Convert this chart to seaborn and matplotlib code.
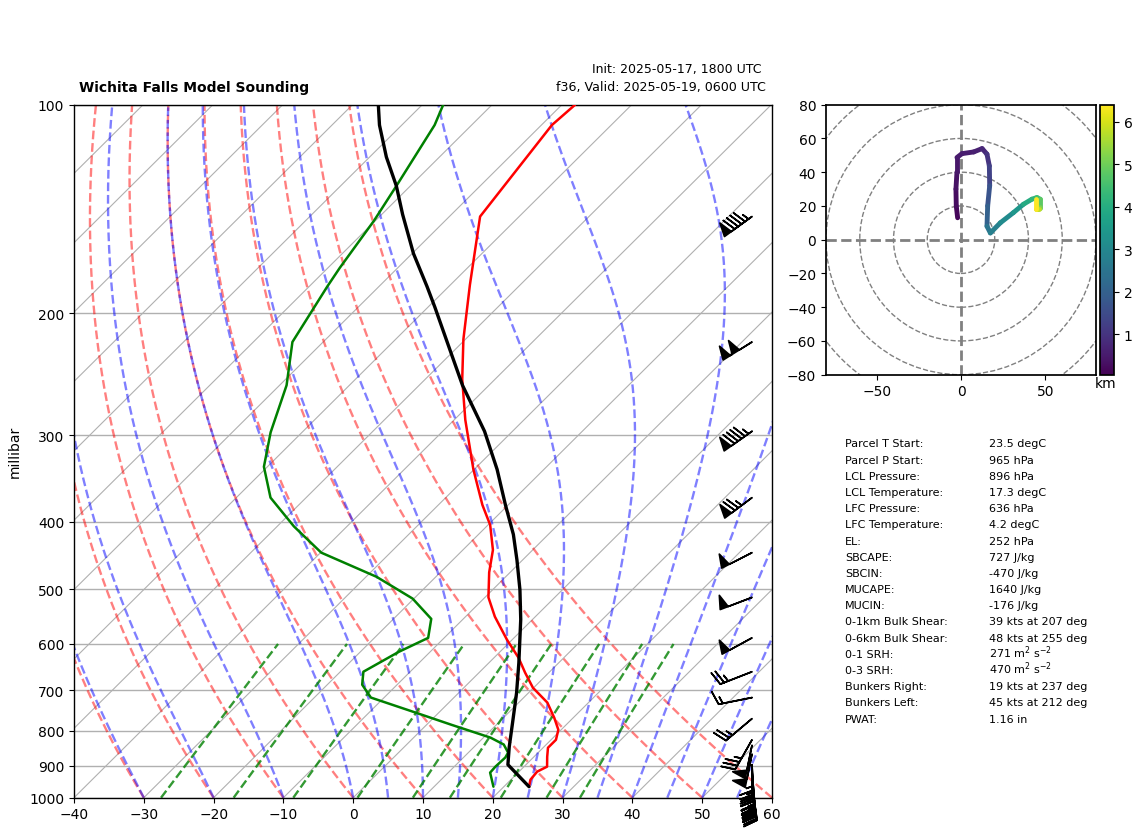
import numpy as np
import matplotlib
matplotlib.use('Agg')
import matplotlib.pyplot as plt
import seaborn as sns
from matplotlib.collections import LineCollection
from matplotlib.patches import Circle

sns.set_theme(style='white')
plt.rcParams['font.family'] = ['DejaVu Sans']
plt.rcParams['xtick.bottom'] = True
plt.rcParams['ytick.left'] = True
plt.rcParams['axes.edgecolor'] = 'black'
plt.rcParams['text.color'] = 'black'
plt.rcParams['axes.labelcolor'] = 'black'
plt.rcParams['xtick.color'] = 'black'
plt.rcParams['ytick.color'] = 'black'

W, H = 1142, 837

# sounding profiles, pressure in hPa and temperature in degC
temp_p = [100, 107, 145, 182, 218, 249, 285, 336, 378, 404, 439, 473, 514, 548, 592, 628, 660, 694,
          729, 767, 798, 825, 847, 873, 902, 917, 942, 964]
temp_c = [-68.1, -68.5, -65.6, -57.2, -50.3, -44.7, -38.4, -30.1, -23.7, -19.7, -15.7, -13.0, -9.5, -5.8,
          -0.7, 3.5, 6.6, 9.9, 14.1, 17.3, 19.6, 20.7, 20.7, 21.9, 23.3, 22.6, 22.8, 23.6]
dewp_p = [100, 107, 131, 147, 172, 183, 220, 254, 297, 333, 369, 406, 443, 480, 516, 552, 588, 616,
          658, 687, 717, 749, 785, 819, 838, 861, 875, 902, 920, 964]
dewp_c = [-87.0, -85.3, -82.0, -80.2, -78.3, -77.4, -74.4, -69.0, -64.5, -60.5, -55.1, -47.6, -39.9, -28.5,
          -20.2, -14.6, -12.3, -14.5, -16.7, -15.0, -11.9, -4.4, 3.6, 11.0, 13.9, 15.7, 16.0, 15.9, 16.0, 18.5]
parcel_p = [100, 107, 119, 131, 144, 164, 183, 196, 222, 254, 296, 336, 378, 417, 454, 501, 553, 639,
            706, 779, 844, 896, 964]
parcel_c = [-96.3, -93.2, -87.6, -82.0, -77.0, -69.8, -63.1, -59.0, -51.7, -43.8, -34.0, -26.7, -20.4, -15.0,
            -10.8, -6.1, -1.7, 4.3, 8.3, 12.0, 15.0, 17.4, 23.6]

# wind barbs
barb_p = [145, 220, 296, 369, 443, 514, 588, 658, 717, 769, 825, 840, 865, 896, 914, 929, 942, 951, 958, 964]
barb_u = [77, 85, 78, 60, 45, 47, 44, 23, 15, 19, 17, 10, 10, -2, -3, -3, -4, -4, -5, -5]
barb_v = [56, 53, 55, 45, 23, 18, 24, 9, 3, 16, 30, 49, 49, 36, 36, 35, 35, 35, 35, 35]

# hodograph
hodo_u = [-2, -2.8, -3, -2.4, -2.4, 0.6, 7.5, 12.5, 15.4, 16.8, 17, 15.8, 15.4, 17.4, 23.3, 31, 37, 42, 45, 47,
          47, 46, 44.5, 44.5]
hodo_v = [13, 20, 30, 40, 48.7, 51, 52, 54, 50.7, 43.7, 32, 20, 8, 4, 10, 16, 21, 24, 25, 24, 19, 18, 18, 24]
hodo_h = [0.1, 0.15, 0.25, 0.35, 0.45, 0.5, 0.55, 0.6, 0.75, 1.0, 1.3, 1.7, 2.0, 2.5, 2.8, 3.1, 3.4, 3.9, 4.2, 4.5,
          4.8, 5.2, 5.8, 6.4]

table_names = ['Parcel T Start:', 'Parcel P Start:', 'LCL Pressure:', 'LCL Temperature:', 'LFC Pressure:',
               'LFC Temperature:', 'EL:', 'SBCAPE:', 'SBCIN:', 'MUCAPE:', 'MUCIN:', '0-1km Bulk Shear:',
               '0-6km Bulk Shear:', '0-1 SRH:', '0-3 SRH:', 'Bunkers Right:', 'Bunkers Left:', 'PWAT:']
table_vals = ['23.5 degC', '965 hPa', '896 hPa', '17.3 degC', '636 hPa', '4.2 degC', '252 hPa', '727 J/kg',
              '-470 J/kg', '1640 J/kg', '-176 J/kg', '39 kts at 207 deg', '48 kts at 255 deg',
              r'271 m$^{2}$ s$^{-2}$', r'470 m$^{2}$ s$^{-2}$', '19 kts at 237 deg', '45 kts at 212 deg', '1.16 in']

dry_t0 = [-30, -20, -10, 0, 10, 20, 30, 40, 50, 60]
moist_t0 = [-30, -20, -10, 0, 5, 10, 15, 20, 25, 30, 35, 40, 45, 50, 55]
mix_ratios = [0.0004, 0.001, 0.002, 0.004, 0.007, 0.01, 0.016, 0.024, 0.032]


def make_axes(fig, left, top, right, bottom):
    return fig.add_axes([left / W, 1 - bottom / H, (right - left) / W, (bottom - top) / H])


fig = plt.figure(figsize=(W / 100, H / 100), dpi=100)
ax = make_axes(fig, 74, 105.7, 772, 798.7)
ax.set_yscale('log')
ax.set_xlim(-40, 60)
ax.set_ylim(1000, 100)

# degC of skew per decade of pressure
SKEW = 99.9


def skew_x(t, p):
    return np.asarray(t, dtype=float) + SKEW * np.log10(1000.0 / np.asarray(p, dtype=float))


p_line = np.geomspace(1000, 100, 400)

# isotherms
for t in np.arange(-140, 70, 10):
    ax.plot(skew_x([t, t], [1000, 100]), [1000, 100], color='#b0b0b0', lw=0.8, zorder=1)
for p in range(100, 1001, 100):
    ax.axhline(p, color='#b0b0b0', lw=1.0, zorder=1)

# dry adiabats
for t0 in dry_t0:
    t = (t0 + 273.15) * (p_line / 1000.0) ** 0.2854 - 273.15
    ax.plot(skew_x(t, p_line), p_line, color='#ff0000', ls='--', lw=1.7, alpha=0.5, zorder=1.5)


# moist adiabats, stepped up from 1000 hPa
def moist_slope(tk, pm):
    es = 6.112 * np.exp(17.67 * (tk - 273.15) / (tk - 29.65))
    rs = 0.622 * es / (pm - es)
    lv = 2.501e6
    return (287.0 * tk + lv * rs) / (1005.0 + lv ** 2 * rs * 0.622 / (287.0 * tk ** 2)) / pm


def moist_curve(t0):
    tk = t0 + 273.15
    out = [tk]
    for i in range(1, len(p_line)):
        dp = p_line[i] - p_line[i - 1]
        mid = tk + 0.5 * dp * moist_slope(tk, p_line[i - 1])
        tk = tk + dp * moist_slope(mid, p_line[i - 1] + 0.5 * dp)
        out.append(tk)
    return np.array(out) - 273.15


for t0 in moist_t0:
    ax.plot(skew_x(moist_curve(t0), p_line), p_line, color='#0000ff', ls='--', lw=1.7, alpha=0.5, zorder=1.5)

# mixing ratio lines
p_mix = np.linspace(1000, 600, 41)
for w in mix_ratios:
    e = w * p_mix / (0.622 + w)
    td = 243.5 * np.log(e / 6.112) / (17.67 - np.log(e / 6.112))
    ax.plot(skew_x(td, p_mix), p_mix, color='#008000', ls='--', lw=1.7, alpha=0.8, zorder=1.5)

sns.lineplot(x=skew_x(temp_c, temp_p), y=temp_p, sort=False, estimator=None, color='#ff0000', lw=1.8, ax=ax, zorder=3)
sns.lineplot(x=skew_x(dewp_c, dewp_p), y=dewp_p, sort=False, estimator=None, color='#008000', lw=1.8, ax=ax, zorder=3)
sns.lineplot(x=skew_x(parcel_c, parcel_p), y=parcel_p, sort=False, estimator=None, color='black', lw=2.4, ax=ax, zorder=3)

# barbs sit in a column just inside the right edge, not clipped
barb_x = np.full(len(barb_p), 1.0) * (752 - 74) / 6.98 - 40
ax.barbs(barb_x, barb_p, barb_u, barb_v, length=7, clip_on=False, color='black', linewidth=1.2, zorder=4)

ax.set_xlim(-40, 60)
ax.set_ylim(1000, 100)
ax.set_xticks(np.arange(-40, 61, 10))
ax.set_yticks(range(100, 1001, 100))
ax.set_yticklabels([str(p) for p in range(100, 1001, 100)])
ax.minorticks_off()
ax.tick_params(labelsize=10, length=3.5, width=0.8, pad=3.5)
ax.set_xlabel('')
ax.set_ylabel('millibar', fontsize=10, labelpad=5)
for s in ax.spines.values():
    s.set_linewidth(1.0)

fig.text(79 / W, 1 - 88 / H, 'Wichita Falls Model Sounding', fontsize=10, fontweight='bold', va='center', ha='left')
fig.text(762 / W, 1 - 70 / H, 'Init: 2025-05-17, 1800 UTC', fontsize=9, va='center', ha='right')
fig.text(766 / W, 1 - 87.5 / H, 'f36, Valid: 2025-05-19, 0600 UTC', fontsize=9.1, va='center', ha='right')

# hodograph
hax = make_axes(fig, 826, 105.7, 1096, 375.7)
hax.set_xlim(-80, 80)
hax.set_ylim(-80, 80)
for r in [20, 40, 60, 80, 100]:
    hax.add_patch(Circle((0, 0), r, fill=False, edgecolor='grey', ls='--', lw=1))
hax.axhline(0, color='grey', ls='--', lw=2)
hax.axvline(0, color='grey', ls='--', lw=2)
pts = np.column_stack([hodo_u, hodo_v])
segs = np.stack([pts[:-1], pts[1:]], axis=1)
lc = LineCollection(segs, cmap='viridis', lw=3.5, capstyle='round')
lc.set_array(np.array(hodo_h[1:]))
lc.set_clim(0.05, 6.4)
hax.add_collection(lc)
hax.set_xticks([-50, 0, 50])
hax.set_yticks(np.arange(-80, 81, 20))
hax.tick_params(labelsize=10, length=3.5, width=0.8, pad=3.5)

cax = make_axes(fig, 1100, 105.7, 1114, 375.7)
cb = fig.colorbar(lc, cax=cax)
cb.set_ticks([1, 2, 3, 4, 5, 6])
cb.ax.tick_params(labelsize=10, length=3.5, width=0.8, pad=3.5)
fig.text(1106 / W, 1 - 384 / H, 'km', fontsize=10, ha='center', va='center')

# parameter table
for i, (name, val) in enumerate(zip(table_names, table_vals)):
    y = 1 - (447.5 + 16.18 * i) / H
    fig.text(845 / W, y, name, fontsize=8, va='baseline')
    fig.text(989 / W, y, val, fontsize=8, va='baseline')

fig.savefig('out.png', dpi=100)
